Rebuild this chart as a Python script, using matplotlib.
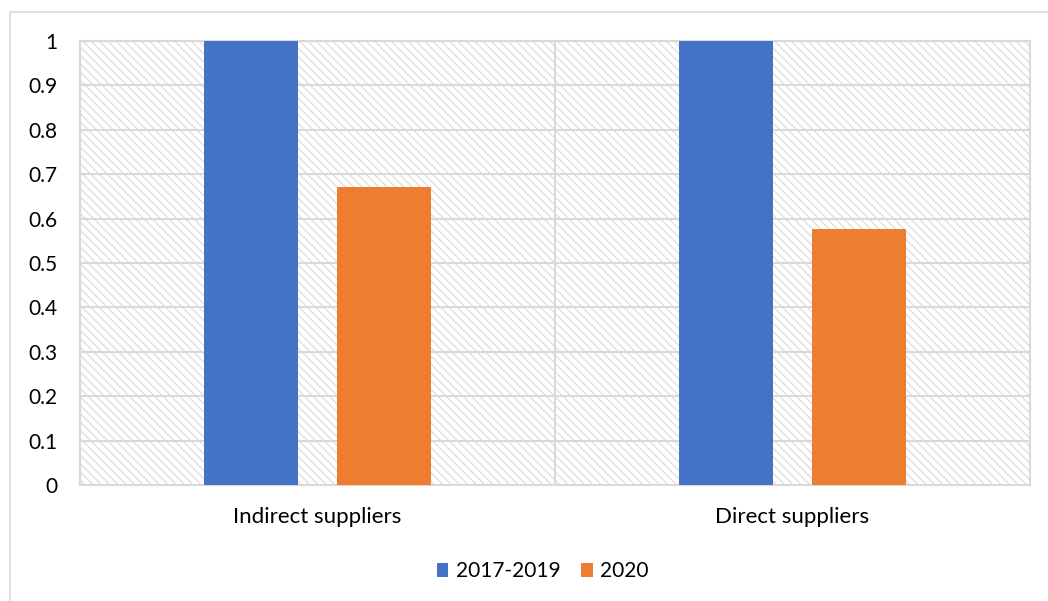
import numpy as np
import matplotlib
matplotlib.use("Agg")
from matplotlib import pyplot as plt
from matplotlib.patches import Rectangle

# data
categories = ["Indirect suppliers", "Direct suppliers"]
series_names = ["2017-2019", "2020"]
vals_2017_2019 = [1.0, 1.0]
vals_2020 = [0.671, 0.577]
yticks = [0, 0.1, 0.2, 0.3, 0.4, 0.5, 0.6, 0.7, 0.8, 0.9, 1]

blue = "#4472C4"
orange = "#ED7D31"
grid_c = "#D9D9D9"

plt.rcParams['font.family'] = ['Lato', 'DejaVu Sans']
plt.rcParams['hatch.linewidth'] = 0.9

fig = plt.figure(figsize=(10.48, 6.01), dpi=100)
ax = fig.add_axes([80 / 1048, 1 - 485 / 601, 950 / 1048, 444 / 601])

# chart area border (right and bottom edges fall outside the picture)
fig.patches.append(Rectangle((10 / 1048, -0.05), 1.0, 1.05 - 12 / 601,
                             transform=fig.transFigure, fill=False,
                             edgecolor=grid_c, linewidth=1.2))

# hatched plot background
ax.add_patch(Rectangle((0, 0), 1, 1, transform=ax.transAxes, facecolor="white",
                       edgecolor="#DDDDDD", hatch="\\" * 4, linewidth=0, zorder=0))

x = np.arange(len(categories))
w = 0.196
off = 0.14
ax.bar(x - off, vals_2017_2019, w, color=blue, label=series_names[0], zorder=3)
ax.bar(x + off, vals_2020, w, color=orange, label=series_names[1], zorder=3)

ax.set_xlim(-0.5, 1.5)
ax.set_ylim(0, 1)
ax.set_yticks(yticks)
ax.set_yticklabels([f"{t:g}" for t in yticks])
ax.set_xticks(x)
ax.set_xticklabels(categories)
ax.tick_params(axis='y', length=0, labelsize=15, colors="#000000", pad=16)
ax.tick_params(axis='x', length=0, labelsize=16, colors="#000000", pad=16)

for t in yticks[1:]:
    ax.axhline(t, color=grid_c, linewidth=1.5, zorder=1)
ax.axvline(0.5, color=grid_c, linewidth=1.5, zorder=1)
for s in ax.spines.values():
    s.set_color(grid_c)
    s.set_linewidth(1.5)

leg = ax.legend(loc='upper center', bbox_to_anchor=(0.487, -0.13), ncol=2,
                frameon=False, fontsize=15, handlelength=0.55, handleheight=0.65,
                handletextpad=0.35, columnspacing=1.0)

fig.savefig("out.png", dpi=100)
